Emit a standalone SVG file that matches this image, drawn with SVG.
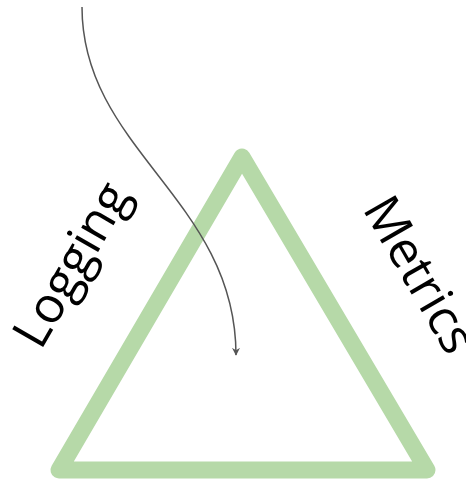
<svg xmlns="http://www.w3.org/2000/svg" width="466" height="488" viewBox="0 0 466 488">
  <style>
    .lbl { font-family: "Open Sans", "Noto Sans", sans-serif; font-size: 50px; fill: #000; }
    .tri { fill: none; stroke: #b6d9a8; stroke-width: 17; stroke-linejoin: round; }
    .conn { fill: none; stroke: #555; stroke-width: 1.5; }
  </style>
  <defs>
    <marker id="arr" viewBox="0 0 10 10" refX="9" refY="5" markerWidth="8" markerHeight="8" markerUnits="userSpaceOnUse" orient="auto">
      <path d="M0,0 L10,5 L0,10 L3,5 Z" fill="#555"/>
    </marker>
  </defs>
  <g id="triangle">
    <polygon class="tri" points="242,157 59,470 427,470"/>
  </g>
  <g id="logging">
    <text class="lbl" text-anchor="middle" transform="translate(86,273) rotate(-60)">Logging</text>
  </g>
  <g id="metrics">
    <text class="lbl" text-anchor="middle" transform="translate(405,283) rotate(60)">Metrics</text>
  </g>
  <g id="connectors">
    <path class="conn" d="M82,7 C82,150 236,200 236,355" marker-end="url(#arr)"/>
  </g>
</svg>
